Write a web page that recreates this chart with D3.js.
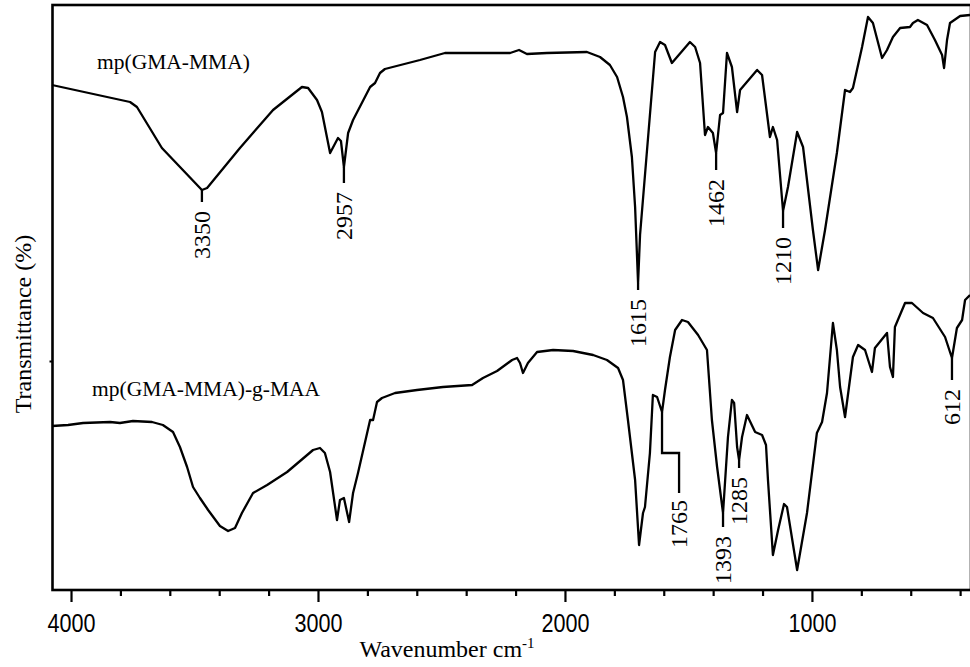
<!DOCTYPE html>
<html>
<head>
<meta charset="utf-8">
<script src="https://cdn.jsdelivr.net/npm/d3@7"></script>
<style>
  html, body { margin: 0; padding: 0; background: #fff; }
  svg { display: block; }
</style>
</head>
<body>
<script>
// FTIR spectra: [wavenumber (cm-1), transmittance (arb. %)]
const spectrumNames = ["mp(GMA-MMA)", "mp(GMA-MMA)-g-MAA"];

const spectrumMP = [
  [4077,101],[3761,97.6],[3733,96.6],[3632,88.4],[3470,80],[3449,80.4],[3316,88.4],
  [3182,96],[3065,100.6],[3040,100.4],[3004,98],[2984,95.6],[2951,87.4],[2919,90.4],
  [2907,89.8],[2895,84.6],[2878,91.4],[2858,94],[2789,100.6],[2769,101.4],[2749,103.4],
  [2729,104.2],[2587,106],[2486,107.4],[2222,107.4],[2186,108],[2154,107.2],[2073,107.4],
  [1911,107.6],[1858,106.6],[1818,105],[1789,102.6],[1765,98.6],[1749,94.6],[1729,86.6],
  [1716,76.6],[1704,61.4],[1696,71],[1635,107.6],[1615,109.6],[1595,109],[1567,105.4],
  [1494,109.6],[1473,108.6],[1453,105.4],[1433,91],[1421,92.6],[1401,91.4],[1388,87.4],
  [1372,95],[1360,95.4],[1344,107.4],[1324,104.6],[1303,95.6],[1291,100],[1222,104],
  [1202,103],[1170,90.6],[1158,92.6],[1141,90],[1117,75.8],[1097,80.6],[1060,91.6],
  [1036,88.6],[996,72],[975,64],[947,72],[899,87.4],[866,100],[846,99.6],[834,100.4],
  [797,108.6],[773,114.6],[753,113.4],[716,106.4],[696,108],[672,110.6],[643,112.4],
  [603,112.6],[591,113.4],[571,114],[534,113],[502,110],[473,107],[465,104.4],[453,110],
  [441,113.4],[400,114.8],[360,115]
];

const spectrumMPgMAA = [
  [4077,32.8],[4012,33],[3951,33.4],[3842,33.6],[3802,33.4],[3749,33.8],[3672,33.6],
  [3628,33],[3587,31.6],[3559,28.6],[3530,24.6],[3506,20.6],[3478,18.4],[3445,16],
  [3397,12.8],[3364,11.8],[3336,12.4],[3308,15.4],[3263,19.4],[3206,21],[3125,23.6],
  [3020,28],[2992,28.4],[2972,27.4],[2951,23.6],[2923,14],[2911,18],[2895,18.4],
  [2874,13.6],[2858,19.4],[2838,23.4],[2789,34],[2777,34],[2761,37.6],[2741,38.4],
  [2688,39.4],[2599,40],[2494,40.6],[2376,41],[2332,42.4],[2275,43.8],[2214,46],
  [2194,46.4],[2182,45.4],[2170,43.4],[2150,45.4],[2113,47.6],[2048,48],[1967,47.8],
  [1886,47],[1830,46],[1785,44.4],[1765,42],[1745,34],[1716,22],[1700,9],[1684,15.4],
  [1676,16.6],[1656,27.4],[1644,39],[1627,38.6],[1607,35.6],[1595,40],[1575,46.6],
  [1554,52],[1526,54],[1502,53.6],[1461,51],[1425,48],[1405,34],[1384,24.6],[1360,15.4],
  [1340,30.6],[1324,38],[1315,37.4],[1303,28.6],[1295,26],[1283,30.6],[1263,35],
  [1230,31.6],[1202,31],[1186,29],[1178,22],[1158,7],[1137,12],[1113,17.2],[1101,16.6],
  [1060,4],[1020,15.4],[980,31.4],[959,33.6],[939,39.4],[915,53.4],[899,48],[886,40.6],
  [866,34.6],[834,46.6],[813,49],[785,48],[757,43.6],[745,48.4],[696,51.4],[684,44.6],
  [672,42.6],[664,52.6],[623,57.4],[595,57.4],[550,55.4],[510,54.4],[461,50.6],
  [433,46.4],[413,52.4],[392,54],[380,58],[360,59]
];

// Peak annotations: label, wavenumber of the leader, leader from / to (transmittance)
const peaksMP = [
  ["3350", 3470, 80, 77.6],
  ["2957", 2895, 84.6, 81.4],
  ["1615", 1704, 61.4, 60],
  ["1462", 1388, 87.4, 84],
  ["1210", 1117, 75.8, 72.4]
];
const peaksMPgMAA = [
  ["1393", 1360, 15.4, 12.6],
  ["1285", 1295, 26, 24.4],
  ["612", 433, 46.4, 42]
];
// Bent leader for the 1765 band: [wavenumber, transmittance] vertices
const leader1765 = [[1607,35.6],[1607,27.4],[1538,27.4],[1538,19.4]];
const label1765 = "1765";

const majorTicks = [4000, 3000, 2000, 1000];
const minorTicks = [3800,3600,3400,3200,2800,2600,2400,2200,1800,1600,1400,1200,800,600,400];
const yTicks = [45.8];
const xDomain = [4077, 360];
const yDomain = [0, 117];

const W = 970, H = 667;
const plotLeft = 52.5, plotRight = 971, plotTop = 5, plotBottom = 590;

const svg = d3.select("body").append("svg")
  .attr("width", W).attr("height", H)
  .style("background", "#fff");

const x = d3.scaleLinear().domain(xDomain).range([52, 970]);
const y = d3.scaleLinear().domain(yDomain).range([plotBottom, plotTop]);

const line = d3.line().x(d => x(d[0])).y(d => y(d[1]));

// spectra
svg.append("path").datum(spectrumMP)
  .attr("d", line).attr("fill", "none")
  .attr("stroke", "#000").attr("stroke-width", 2.3).attr("stroke-linejoin", "round");
svg.append("path").datum(spectrumMPgMAA)
  .attr("d", line).attr("fill", "none")
  .attr("stroke", "#000").attr("stroke-width", 2.3).attr("stroke-linejoin", "round");

// frame
svg.append("rect")
  .attr("x", plotLeft).attr("y", plotTop)
  .attr("width", plotRight - plotLeft).attr("height", plotBottom - plotTop)
  .attr("fill", "none").attr("stroke", "#000").attr("stroke-width", 2.6);

// x axis: major and minor ticks pointing outward
const gMajor = svg.append("g").attr("transform", `translate(0,${plotBottom})`)
  .call(d3.axisBottom(x).tickValues(majorTicks).tickSize(12).tickFormat(d3.format("d")));
const gMinor = svg.append("g").attr("transform", `translate(0,${plotBottom})`)
  .call(d3.axisBottom(x).tickValues(minorTicks).tickSize(6).tickFormat(""));
[gMajor, gMinor].forEach(g => {
  g.select(".domain").remove();
  g.selectAll(".tick line").attr("stroke", "#000").attr("stroke-width", 2.2);
});
gMajor.selectAll(".tick text")
  .attr("y", 42).attr("dy", null)
  .attr("fill", "#000")
  .style("font-family", "'Liberation Sans', Arial, sans-serif")
  .style("font-size", "25px")
  .attr("textLength", 48).attr("lengthAdjust", "spacingAndGlyphs");

// y axis: unlabeled tick
const gY = svg.append("g").attr("transform", `translate(${plotLeft},0)`)
  .call(d3.axisLeft(y).tickValues(yTicks).tickSize(3).tickFormat(""));
gY.select(".domain").remove();
gY.selectAll(".tick line").attr("stroke", "#000").attr("stroke-width", 2);

// axis titles
const serif = "'Liberation Serif', 'Times New Roman', serif";
const xTitle = svg.append("text")
  .attr("x", 447).attr("y", 657)
  .attr("text-anchor", "middle")
  .style("font-family", serif).style("font-size", "24px").attr("fill", "#000");
xTitle.append("tspan").text("Wavenumber cm");
xTitle.append("tspan").attr("dy", -9).style("font-size", "15px").text("-1");

svg.append("text")
  .attr("transform", "translate(31,324) rotate(-90)")
  .attr("text-anchor", "middle")
  .style("font-family", serif).style("font-size", "24px").attr("fill", "#000")
  .text("Transmittance (%)");

// spectrum names
svg.append("text").attr("x", 97).attr("y", 69)
  .style("font-family", serif).style("font-size", "21.5px").attr("fill", "#000")
  .text(spectrumNames[0]);
svg.append("text").attr("x", 92).attr("y", 396)
  .style("font-family", serif).style("font-size", "21.5px").attr("fill", "#000")
  .text(spectrumNames[1]);

// peak leaders and rotated labels
function drawPeaks(peaks) {
  const g = svg.append("g");
  peaks.forEach(([label, wn, t0, t1]) => {
    g.append("line")
      .attr("x1", x(wn)).attr("x2", x(wn))
      .attr("y1", y(t0)).attr("y2", y(t1))
      .attr("stroke", "#000").attr("stroke-width", 2.3);
    g.append("text")
      .attr("transform", `translate(${x(wn) + 8},${y(t1) + 9}) rotate(-90)`)
      .attr("text-anchor", "end")
      .style("font-family", serif).style("font-size", "24px").attr("fill", "#000")
      .text(label);
  });
}
drawPeaks(peaksMP);
drawPeaks(peaksMPgMAA);

svg.append("path").datum(leader1765)
  .attr("d", line).attr("fill", "none")
  .attr("stroke", "#000").attr("stroke-width", 2.3);
const end1765 = leader1765[leader1765.length - 1];
svg.append("text")
  .attr("transform", `translate(${x(end1765[0]) + 8},${y(end1765[1]) + 7}) rotate(-90)`)
  .attr("text-anchor", "end")
  .style("font-family", serif).style("font-size", "24px").attr("fill", "#000")
  .text(label1765);
</script>
</body>
</html>
